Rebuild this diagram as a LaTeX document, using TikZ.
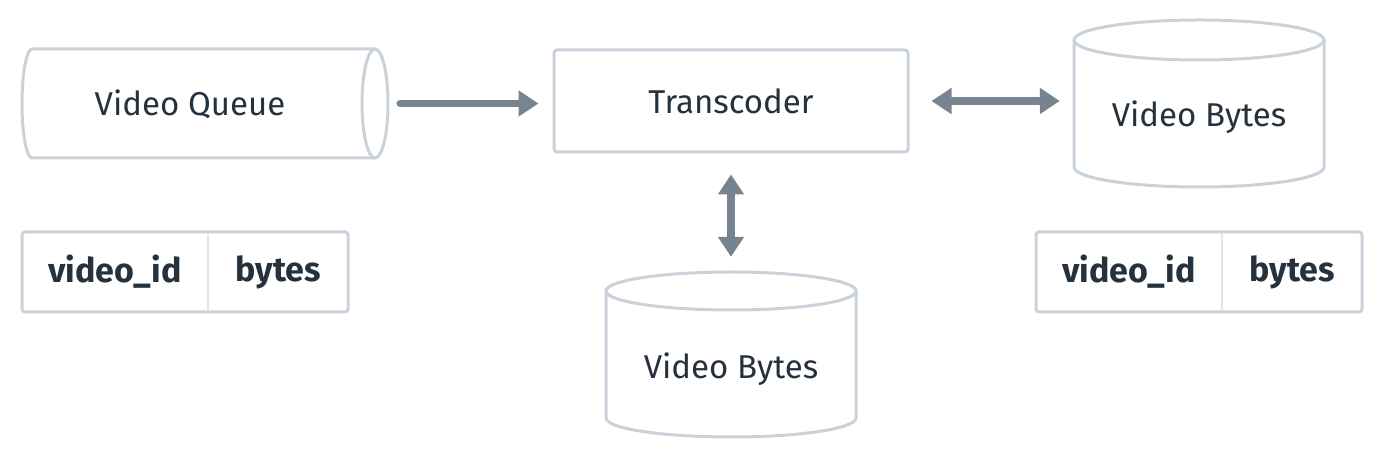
\documentclass[tikz,border=0pt]{standalone}
\usepackage{fontspec}
\setmainfont{Fira Sans}
\usetikzlibrary{arrows.meta}
\definecolor{edge}{HTML}{C9D2DB}
\definecolor{divc}{HTML}{E2E6EA}
\definecolor{arrowc}{HTML}{77838F}
\definecolor{txtc}{HTML}{25313D}
\tikzset{
  outline/.style={draw=edge, line width=3pt, line join=round},
  hit/.style={inner sep=0pt, draw=none},
  box/.style={outline, rounded corners=3pt, inner sep=0pt},
  txt/.style={text=txtc, font=\fontsize{33}{38}\selectfont, inner sep=0pt},
  btxt/.style={text=txtc, font=\fontsize{34}{39}\selectfont\bfseries, inner sep=0pt},
  divider/.style={draw=divc, line width=2pt},
  conn/.style={draw=arrowc, line width=7.5pt, line cap=round},
  tip/.style={-{Triangle[width=25pt,length=20pt]}},
  tips/.style={{Triangle[width=25pt,length=20pt]}-{Triangle[width=25pt,length=20pt]}}
}
\begin{document}
\begin{tikzpicture}[x=1pt,y=1pt]
\useasboundingbox (0,0) rectangle (1382,460);
% Video Queue (horizontal cylinder)
\node[hit, minimum width=366pt, minimum height=109pt] (queue) at (205,356.5) {};
\draw[outline] (375,411) -- (32,411) arc[start angle=90, end angle=270, x radius=10pt, y radius=54.5pt] -- (375,302);
\draw[outline] (375,356.5) ellipse [x radius=13pt, y radius=54.5pt];
\node[txt] (queuelabel) at (190,356) {Video Queue};
% Transcoder
\node[box, minimum width=354pt, minimum height=102pt] (trans) at (731,359) {};
\node[txt] (translabel) at (731,359) {Transcoder};
% Right Video Bytes cylinder
\node[hit, minimum width=250pt, minimum height=167pt] (bytesR) at (1199,356.5) {};
\draw[outline, fill=white] (1074,420) -- (1074,293) arc[start angle=180, end angle=360, x radius=125pt, y radius=20pt] -- (1324,420);
\draw[outline] (1199,420) ellipse [x radius=125pt, y radius=20pt];
\node[txt] (bytesRlabel) at (1199,343) {Video Bytes};
% Bottom Video Bytes cylinder
\node[hit, minimum width=250pt, minimum height=165pt] (bytesB) at (731,105.5) {};
\draw[outline] (606,169) -- (606,42) arc[start angle=180, end angle=360, x radius=125pt, y radius=19pt] -- (856,169);
\draw[outline] (731,169) ellipse [x radius=125pt, y radius=19pt];
\node[txt] (bytesBlabel) at (731,91) {Video Bytes};
% Left table
\node[box, minimum width=326pt, minimum height=80pt] (tableL) at (185,188) {};
\draw[divider] (208,226.5) -- (208,149.5);
\node[btxt] (tLid) at (115,188) {video\_id};
\node[btxt] (tLbytes) at (278,188) {bytes};
% Right table
\node[box, minimum width=326pt, minimum height=80pt] (tableR) at (1199,188) {};
\draw[divider] (1222,226.5) -- (1222,149.5);
\node[btxt] (tRid) at (1129,188) {video\_id};
\node[btxt] (tRbytes) at (1292,188) {bytes};
% Connectors
\draw[conn, tip, shorten <=12pt, shorten >=14pt] (queue.east) -- (queue.east -| trans.west);
\draw[conn, tips, shorten <=22pt, shorten >=14pt] (trans.east) -- (bytesR.west |- trans.east);
\draw[conn, tips, shorten <=21pt, shorten >=15pt] (trans.south) -- (bytesB.north);
\end{tikzpicture}
\end{document}
